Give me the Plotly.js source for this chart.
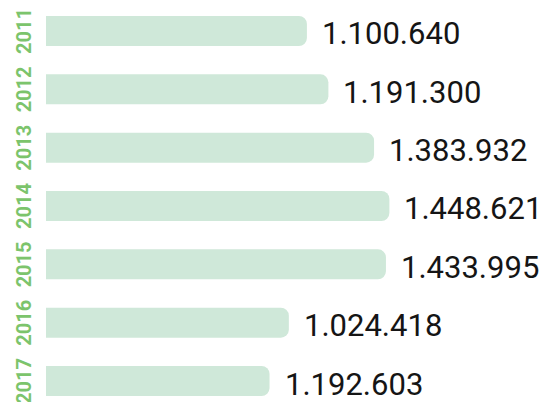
<!DOCTYPE html>
<html>
<head>
<meta charset="utf-8">
<script src="https://cdn.plot.ly/plotly-3.0.1.min.js"></script>
<style>html,body{margin:0;padding:0;background:#fff;}#chart{width:545px;height:402px;}</style>
</head>
<body>
<div id="chart"></div>
<script>
// Data
const years = ["2011", "2012", "2013", "2014", "2015", "2016", "2017"];
const values = [1100640, 1191300, 1383932, 1448621, 1433995, 1024418, 1192603];
const valueLabels = ["1.100.640", "1.191.300", "1.383.932", "1.448.621", "1.433.995", "1.024.418", "1.192.603"];
// Bar lengths as drawn in the reference (2017 bar is drawn shorter than its value)
const barLengths = [1100640, 1191300, 1383932, 1448621, 1433995, 1024418, 943000];

const idx = years.map((_, i) => i);

const trace = {
  type: 'bar',
  orientation: 'h',
  x: barLengths,
  y: idx,
  width: 0.515,
  marker: { color: '#cfe8d9', cornerradius: 8, line: { width: 0 } },
  hoverinfo: 'skip'
};

const annotations = [];
idx.forEach(i => {
  annotations.push({
    x: barLengths[i], y: i, xref: 'x', yref: 'y',
    text: valueLabels[i], showarrow: false,
    xanchor: 'left', yanchor: 'middle', xshift: 13, yshift: -3,
    font: { family: 'Roboto, sans-serif', size: 31, color: '#151515' }
  });
  annotations.push({
    x: -0.044, y: i, xref: 'paper', yref: 'y',
    text: years[i], showarrow: false, textangle: -90,
    xanchor: 'center', yanchor: 'middle',
    font: { family: 'Roboto, sans-serif', size: 20, color: '#7cc46c', weight: 'bold' }
  });
});

const layout = {
  width: 545, height: 402,
  margin: { l: 46, r: 0, t: 0, b: 0, pad: 0 },
  paper_bgcolor: '#ffffff', plot_bgcolor: '#ffffff',
  showlegend: false,
  xaxis: { range: [0, 2105000], visible: false, fixedrange: true },
  yaxis: { range: [6.36, -0.531], visible: false, fixedrange: true },
  annotations: annotations
};

Plotly.newPlot('chart', [trace], layout, { staticPlot: true, displayModeBar: false });
</script>
</body>
</html>
